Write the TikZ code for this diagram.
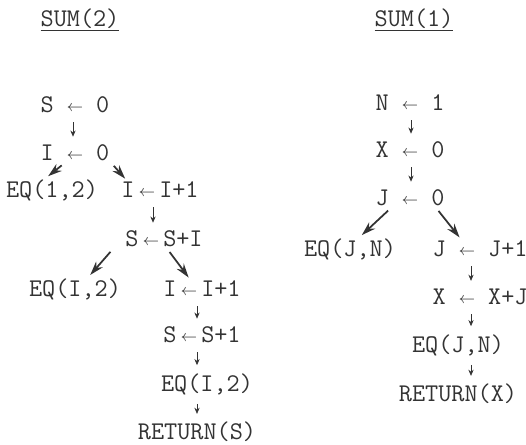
\documentclass[tikz,border=0pt]{standalone}
\usepackage{tikz}
\usetikzlibrary{arrows.meta}
\newcommand{\asgn}{\raisebox{.1ex}{\small$\leftarrow$}}

\begin{document}
\begin{tikzpicture}[x=0.02cm,y=-0.02cm,
    every node/.style={font=\fontsize{14.5}{16}\selectfont\ttfamily, inner sep=1pt, text=black!80},
    down/.style={black!80, -{Stealth[length=3.5pt,width=3pt]}, shorten <=4pt, shorten >=3.5pt},
    branch/.style={black!80, line width=1pt, -{Stealth[length=8pt,width=5pt]}, shorten <=2pt, shorten >=1pt}]
    \useasboundingbox (0,0) rectangle (526,444);
    % SUM(2)
    \node (t2) at (80,20) {\underline{SUM(2)}};
    \node (s0) at (75,105) {S \asgn{} 0};
    \node (i0) at (75,153) {I \asgn{} 0};
    \node (eq1) at (52,190) {EQ(1,2)};
    \node (inc1) at (160,190) {I\,\asgn\,I+1};
    \node (ss1) at (164,239) {S\,\asgn\,S+I};
    \node (eq2) at (75,289) {EQ(I,2)};
    \node (inc2) at (202,289) {I\,\asgn\,I+1};
    \node (ss2) at (202,335) {S\,\asgn\,S+1};
    \node (eq3) at (207,384) {EQ(I,2)};
    \node (ret2) at (197,432) {RETURN(S)};
    \draw[down] (s0.south -| 73,0) -- (i0.north -| 73,0);
    \draw[down] (inc1.south -| 153,0) -- (ss1.north -| 153,0);
    \draw[down] (inc2.south -| 197,0) -- (ss2.north -| 197,0);
    \draw[down] (ss2.south -| 197,0) -- (eq3.north -| 197,0);
    \draw[down] (eq3.south -| 197,0) -- (ret2.north -| 197,0);
    \draw[branch] ([xshift=-6pt]i0.south) -- ([xshift=-3pt]eq1.north);
    \draw[branch] (i0.south east) -- ([xshift=4pt]inc1.north west);
    \draw[branch] ([xshift=-6pt]ss1.south west) -- ([xshift=8pt]eq2.north);
    \draw[branch] ([xshift=2pt]ss1.south) -- ([xshift=-7pt]inc2.north);
    % SUM(1)
    \node (t1) at (414,20) {\underline{SUM(1)}};
    \node (n1) at (410,103) {N \asgn{} 1};
    \node (x0) at (410,150) {X \asgn{} 0};
    \node (j0) at (410,198) {J \asgn{} 0};
    \node (eq4) at (350,249) {EQ(J,N)};
    \node (inc3) at (480,249) {J \asgn{} J+1};
    \node (xx) at (480,297) {X \asgn{} X+J};
    \node (eq5) at (458,345) {EQ(J,N)};
    \node (ret1) at (458,394) {RETURN(X)};
    \draw[down] (n1.south -| 411,0) -- (x0.north -| 411,0);
    \draw[down] (x0.south -| 411,0) -- (j0.north -| 411,0);
    \draw[down] (inc3.south -| 471,0) -- (xx.north -| 471,0);
    \draw[down] (xx.south -| 471,0) -- (eq5.north -| 471,0);
    \draw[down] (eq5.south -| 471,0) -- (ret1.north -| 471,0);
    \draw[branch] ([xshift=-11pt]j0.south) -- ([xshift=6pt]eq4.north);
    \draw[branch] ([xshift=15pt]j0.south) -- ([xshift=-11pt]inc3.north);
\end{tikzpicture}
\end{document}
